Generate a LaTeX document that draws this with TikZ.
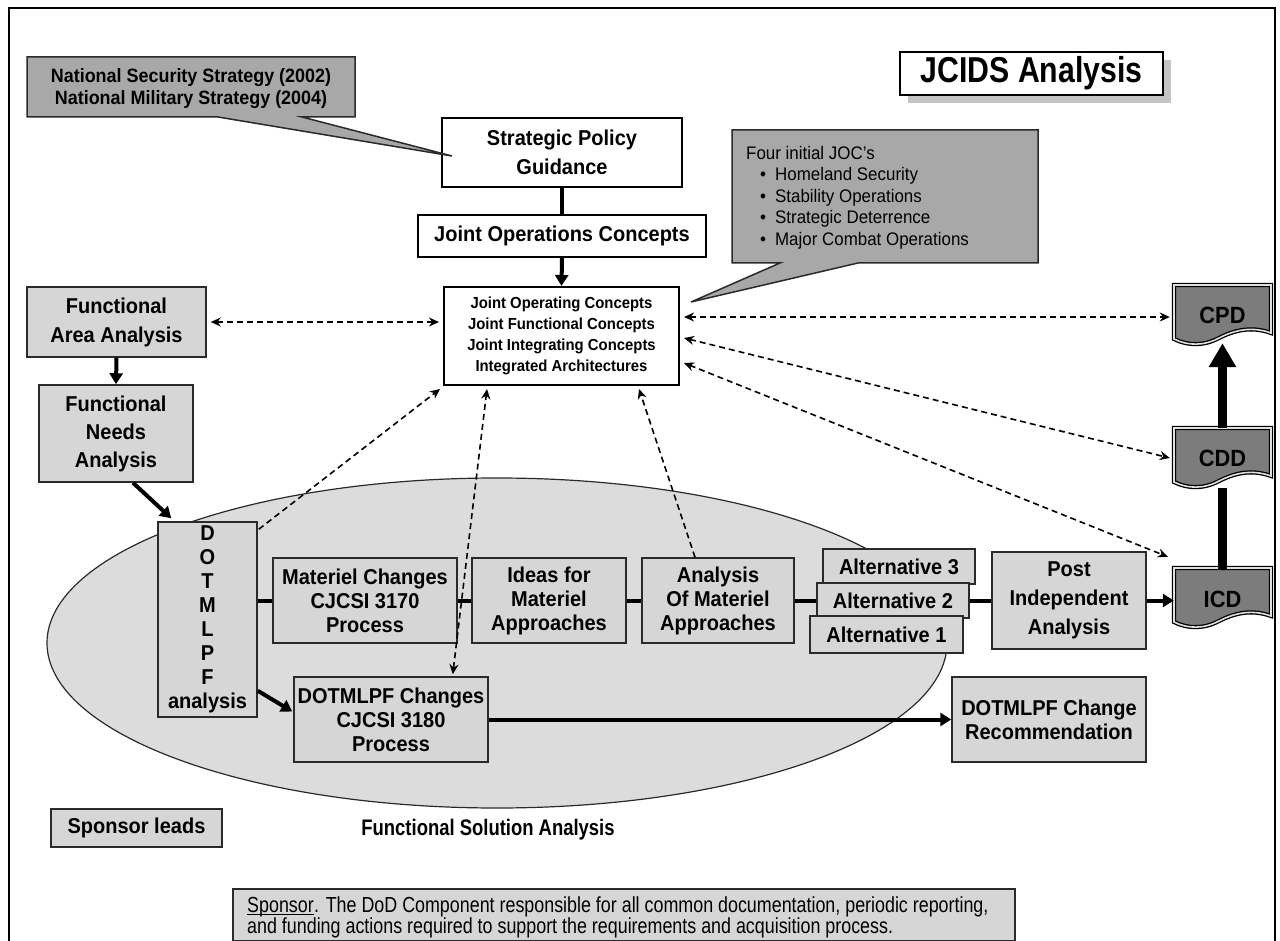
\documentclass[tikz,border=0pt]{standalone}
\usepackage{fontspec}
\setmainfont{Liberation Sans}[FakeStretch=0.93]
\newfontfamily\narrowfont[FakeStretch=0.82]{Liberation Sans}
\newfontfamily\titlefont[FakeStretch=0.84]{Liberation Sans}
\usetikzlibrary{arrows.meta,calc}
\newcommand\setfs[2]{\fontsize{#1}{#2}\selectfont}
\definecolor{boxgray}{HTML}{D6D6D6}
\definecolor{ellgray}{HTML}{DCDCDC}
\definecolor{callgray}{HTML}{A8A8A8}
\definecolor{docgray}{HTML}{7C7C7C}
\definecolor{edgec}{HTML}{2A2A2A}
\definecolor{shadowc}{HTML}{C4C4C4}
\newcommand\docshape[2]{%
  \draw[docbody] (#1,#2) -- ({#1+97},#2) -- ({#1+97},{#2+48})
    .. controls ({#1+75},{#2+40}) and ({#1+57},{#2+47}) .. ({#1+45},{#2+53})
    .. controls ({#1+30},{#2+61}) and ({#1+14},{#2+61}) .. (#1,{#2+54}) -- cycle;}
\tikzset{
  gbox/.style={draw=edgec, line width=1.5pt, fill=boxgray, align=center, inner sep=0pt,
    font=\bfseries\setfs{21.5}{24}, text=black},
  wbox/.style={draw=black, line width=2pt, fill=white, align=center, inner sep=0pt,
    font=\bfseries\setfs{21.5}{29}},
  link/.style={line width=4pt, draw=black},
  arr/.style={link, -{Triangle[length=11pt,width=13pt]}},
  dashtwo/.style={line width=1.6pt, dash pattern=on 6pt off 4pt,
    {Stealth[length=10pt,width=9pt]}-{Stealth[length=10pt,width=9pt]}},
  dashone/.style={line width=1.6pt, dash pattern=on 6pt off 4pt,
    -{Stealth[length=10pt,width=9pt]}},
  docbody/.style={draw=black, line width=1.3pt, double=white!75!gray, double distance=1.6pt, fill=docgray},
  doctext/.style={inner sep=0pt, minimum width=97pt, minimum height=60pt, font=\bfseries\setfs{23.5}{26}},
  callout/.style={fill=callgray, draw=edgec, line width=1.5pt},
  notetext/.style={inner sep=0pt, font=\narrowfont\setfs{21.8}{24}},
}
\begin{document}
\begin{tikzpicture}[x=1pt,y=-1pt]
\useasboundingbox (0,0) rectangle (1280,941);
% frame
\draw[line width=2.5pt] (9,960) -- (9,8) -- (1275,8) -- (1275,960);

% ellipse
\draw[fill=ellgray, draw=edgec, line width=1.2pt] (497,643) ellipse [x radius=450pt, y radius=165pt];

% title
\fill[shadowc] (908,60) rectangle (1171,103);
\node[draw=black, line width=2pt, fill=white, inner sep=0pt, minimum width=263pt, minimum height=43pt,
  font=\titlefont\bfseries\setfs{36}{38}] (title) at (1031.5,73.5) {JCIDS Analysis};

% top boxes
\node[wbox, minimum width=240pt, minimum height=69pt] (spg) at (562,152.5) {Strategic Policy\\Guidance};
\node[wbox, minimum width=288pt, minimum height=42pt] (jops) at (562,236) {Joint Operations Concepts};
\node[wbox, minimum width=235pt, minimum height=98pt, font=\bfseries\setfs{16}{21}] (jc) at (561.5,336)
  {Joint Operating Concepts\\Joint Functional Concepts\\Joint Integrating Concepts\\Integrated Architectures};

% left boxes
\node[gbox, minimum width=179pt, minimum height=70pt, font=\bfseries\setfs{21.5}{29}] (faa) at (116.5,322) {Functional\\Area Analysis};
\node[gbox, minimum width=154pt, minimum height=97pt, font=\bfseries\setfs{21.5}{28}] (fna) at (116,433.5) {Functional\\Needs\\Analysis};

% inner process
\node[gbox, minimum width=99pt, minimum height=195pt] (dot) at (207.5,619.5) {D\\O\\T\\M\\L\\P\\F\\analysis};
\node[gbox, minimum width=184pt, minimum height=85pt] (mat) at (365,600.5) {Materiel Changes\\CJCSI 3170\\Process};
\node[gbox, minimum width=154pt, minimum height=85pt] (ideas) at (549,600.5) {Ideas for\\Materiel\\Approaches};
\node[gbox, minimum width=152pt, minimum height=85pt] (ama) at (718,600.5) {Analysis\\Of Materiel\\Approaches};
\node[gbox, minimum width=152pt, minimum height=35pt] (alt3) at (899,566.5) {Alternative 3};
\node[gbox, minimum width=152pt, minimum height=35pt] (alt2) at (893,600.5) {Alternative 2};
\node[gbox, minimum width=153pt, minimum height=37pt] (alt1) at (886.5,634.5) {Alternative 1};
\node[gbox, minimum width=154pt, minimum height=97pt, font=\bfseries\setfs{21.5}{29}] (post) at (1069,600.5) {Post\\Independent\\Analysis};
\node[gbox, minimum width=194pt, minimum height=85pt] (dch) at (391,719.5) {DOTMLPF Changes\\CJCSI 3180\\Process};
\node[gbox, minimum width=194pt, minimum height=85pt] (dcr) at (1049,719.5) {DOTMLPF Change\\Recommendation};

% documents
\docshape{1174}{285}
\docshape{1174}{428}
\docshape{1174}{568}
\node[doctext] (cpd) at (1222.5,315) {CPD};
\node[doctext] (cdd) at (1222.5,458) {CDD};
\node[doctext] (icd) at (1222.5,599) {ICD};

% bottom labels
\node[gbox, minimum width=171pt, minimum height=38pt] (spl) at (136.5,828) {Sponsor leads};
\node[font=\narrowfont\bfseries\setfs{22.5}{24}, inner sep=0pt] (fsa) at (488,830) {Functional Solution Analysis};
\node[gbox, minimum width=782pt, minimum height=52pt] (note) at (624,915) {};
\node[notetext, anchor=base west] (spons) at (247,912) {Sponsor};
\node[notetext, anchor=base west] (note1) at (spons.base east) {. The DoD Component responsible for all common documentation, periodic reporting,};
\node[notetext, anchor=base west] (note2) at (247,933) {and funding actions required to support the requirements and acquisition process.};
\draw[line width=0.9pt] ($(spons.base west)+(0,2.5)$) -- ($(spons.base east)+(0,2.5)$);

% solid connectors
\draw[link] (spg.south) -- (jops.north);
\draw[arr] (jops.south) -- (jc.north);
\draw[arr] (faa.south) -- (fna.north);
\draw[arr] ($(fna.south)+(17,0)$) -- ($(dot.north west)+(14,-3)$);
\draw[arr] ($(dot.south east)+(0,-27)$) -- ($(dch.west)+(-1,-8)$);
\draw[link] (dot.east |- mat.west) -- (mat.west);
\draw[link] (mat.east) -- (ideas.west);
\draw[link] (ideas.east) -- (ama.west);
\draw[link] (ama.east) -- (alt2.west);
\draw[link] (alt2.east) -- (post.west);
\draw[arr] (post.east) -- (post.east -| icd.west);
\draw[arr] (dch.east) -- (dcr.west);
\draw[line width=9pt] (icd.north) -- (cdd.south);
\draw[line width=9pt, -{Triangle[length=24pt,width=26pt]}] (cdd.north) -- ($(cpd.south)+(0,-2)$);

% dashed connectors
\draw[dashtwo] ($(faa.east)+(4,0)$) -- ($(jc.west |- faa.east)+(-4,0)$);
\draw[dashtwo] ($(jc.east)+(4,-19)$) -- ($(cpd.west)+(-4,2)$);
\draw[dashtwo] ($(jc.east)+(4,2)$) -- ($(cdd.west)+(-4,0)$);
\draw[dashtwo] ($(jc.east)+(4,27)$) -- ($(icd.north west)+(-6,-12)$);
\draw[dashone] ($(dot.north east)+(1,8)$) -- ($(jc.south west)+(-3,3)$);
\draw[dashtwo] ($(dch.north east)+(-36,-2)$) -- ($(jc.south west)+(44,3)$);
\draw[dashone] ($(ama.north)+(-23,0)$) -- ($(jc.south east)+(-41,3)$);

% callouts
\draw[callout] (27,57) -- (355,57) -- (355,117) -- (302,117) -- (452,156) -- (218,117) -- (27,117) -- cycle;
\node[font=\bfseries\setfs{19.3}{22}, align=center, inner sep=0pt] (nss) at (191,89)
  {National Security Strategy (2002)\\National Military Strategy (2004)};
\draw[callout] (732,130) -- (1038,130) -- (1038,263) -- (858,263) -- (691,302) -- (780,263) -- (732,263) -- cycle;
\node[anchor=west, align=left, inner sep=0pt, font=\setfs{18.2}{21.5}] (joc) at (746,197.5)
  {Four initial JOC’s\\
   \hspace*{14pt}•\hspace*{9pt}Homeland Security\\
   \hspace*{14pt}•\hspace*{9pt}Stability Operations\\
   \hspace*{14pt}•\hspace*{9pt}Strategic Deterrence\\
   \hspace*{14pt}•\hspace*{9pt}Major Combat Operations};
\end{tikzpicture}
\end{document}
